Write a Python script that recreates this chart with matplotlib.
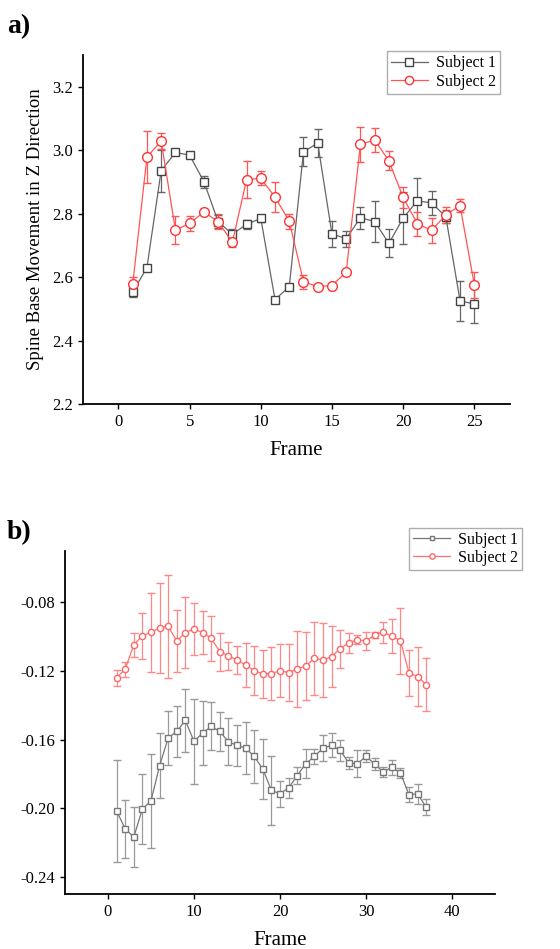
import numpy as np
import matplotlib
matplotlib.use('Agg')
import matplotlib.pyplot as plt
from matplotlib.lines import Line2D

plt.rcParams['font.family'] = ['Liberation Serif', 'DejaVu Serif']
plt.rcParams['axes.unicode_minus'] = False

# Panel a) datos
frames_a = list(range(1, 26))
s1_a = [2.552, 2.630, 2.935, 2.993, 2.984, 2.901, 2.775, 2.735, 2.766, 2.785,
        2.529, 2.570, 2.995, 3.022, 2.736, 2.721, 2.787, 2.775, 2.706, 2.786,
        2.840, 2.834, 2.790, 2.525, 2.515]
s1_a_err = [0.016, 0.005, 0.066, 0.005, 0.008, 0.019, 0.020, 0.016, 0.015, 0.010,
            0.008, 0.005, 0.045, 0.045, 0.040, 0.025, 0.035, 0.064, 0.044, 0.083,
            0.071, 0.037, 0.020, 0.062, 0.060]
s2_a = [2.577, 2.978, 3.029, 2.748, 2.769, 2.805, 2.775, 2.709, 2.907, 2.911,
        2.852, 2.776, 2.585, 2.570, 2.573, 2.616, 3.018, 3.032, 2.966, 2.851,
        2.768, 2.747, 2.796, 2.825, 2.576]
s2_a_err = [0.022, 0.081, 0.024, 0.045, 0.025, 0.010, 0.024, 0.015, 0.059, 0.022,
            0.047, 0.023, 0.022, 0.005, 0.008, 0.005, 0.054, 0.037, 0.030, 0.032,
            0.038, 0.040, 0.026, 0.020, 0.041]

# Panel b) datos
frames_b = list(range(1, 38))
s1_b = [-0.2016, -0.2120, -0.2169, -0.2004, -0.1958, -0.1752, -0.1591, -0.1552,
        -0.1488, -0.1610, -0.1562, -0.1523, -0.1552, -0.1612, -0.1634, -0.1649,
        -0.1698, -0.1771, -0.1896, -0.1915, -0.1882, -0.1810, -0.1740, -0.1698,
        -0.1649, -0.1634, -0.1663, -0.1737, -0.1740, -0.1698, -0.1742, -0.1789,
        -0.1760, -0.1795, -0.1921, -0.1917, -0.1994]
s1_b_err = [0.030, 0.017, 0.0175, 0.0203, 0.0276, 0.019, 0.0159, 0.015, 0.0184,
            0.0247, 0.0188, 0.014, 0.0114, 0.0136, 0.012, 0.015, 0.0155, 0.0177,
            0.020, 0.0075, 0.006, 0.0048, 0.0086, 0.0044, 0.0075, 0.007, 0.006,
            0.0036, 0.0078, 0.0035, 0.0034, 0.003, 0.0044, 0.003, 0.0042, 0.0057,
            0.0048]
s2_b = [-0.1240, -0.1190, -0.1046, -0.0996, -0.0973, -0.0949, -0.0940, -0.1025,
        -0.0976, -0.0955, -0.0976, -0.1009, -0.1087, -0.1112, -0.1135, -0.1165,
        -0.1198, -0.1217, -0.1215, -0.1198, -0.1209, -0.1188, -0.1170, -0.1126,
        -0.1135, -0.1116, -0.1070, -0.1035, -0.1017, -0.1025, -0.0990, -0.0975,
        -0.0996, -0.1023, -0.1211, -0.1232, -0.1281]
s2_b_err = [0.0047, 0.0045, 0.007, 0.0134, 0.023, 0.0265, 0.030, 0.018, 0.0206,
            0.015, 0.0127, 0.013, 0.011, 0.0082, 0.0083, 0.013, 0.0143, 0.014,
            0.0156, 0.0153, 0.0168, 0.022, 0.020, 0.0212, 0.0215, 0.018, 0.011,
            0.0057, 0.0025, 0.005, 0.002, 0.0063, 0.010, 0.0193, 0.0134, 0.0174,
            0.0155]

fig = plt.figure(figsize=(5.6, 9.49), dpi=100)


def estilo_ejes(ax):
    ax.spines['top'].set_visible(False)
    ax.spines['right'].set_visible(False)
    ax.spines['left'].set_linewidth(1.3)
    ax.spines['bottom'].set_linewidth(1.3)
    ax.tick_params(direction='out', length=3.5, width=1.0, labelsize=12)


def serie(ax, x, y, err, color, ecolor, marker, ms, mec):
    ax.errorbar(x, y, yerr=err, color=color, ecolor=ecolor,
                lw=0.9, elinewidth=0.9, capsize=3, capthick=0.9,
                marker=marker, ms=ms, mfc='white', mec=mec, mew=1.0)
    # punto central tipo Origin
    ax.plot(x, y, ls='none', marker='.', ms=1.5, color=mec)
    return Line2D([], [], color=color, lw=0.9, marker=marker, ms=ms * 0.85,
                  mfc='white', mec=mec, mew=1.0)


def leyenda(ax, handles, anchor):
    leg = ax.legend(handles, ['Subject 1', 'Subject 2'], loc='upper right',
                    bbox_to_anchor=anchor, bbox_transform=fig.transFigure,
                    fontsize=11.5, frameon=True, fancybox=False,
                    edgecolor='#999999', borderpad=0.25, handlelength=2.3,
                    labelspacing=0.15, handletextpad=0.5, borderaxespad=0)
    leg.get_frame().set_linewidth(1.0)


# ---- a) ----
ax1 = fig.add_axes([0.148, 0.5743, 0.7625, 0.3678])
h1 = serie(ax1, frames_a, s1_a, s1_a_err, '#666666', '#666666', 's', 6.0, '#444444')
h2 = serie(ax1, frames_a, s2_a, s2_a_err, '#ff5555', '#ff5555', 'o', 7.0, '#ff3333')
ax1.set_xlim(-2.5, 27.5)
ax1.set_ylim(2.2, 3.3)
ax1.set_xticks([0, 5, 10, 15, 20, 25])
ax1.set_yticks(np.arange(2.2, 3.21, 0.2))
ax1.yaxis.set_major_formatter(matplotlib.ticker.FormatStrFormatter('%.1f'))
ax1.set_xlabel('Frame', fontsize=15, labelpad=8)
ax1.set_ylabel('Spine Base Movement in Z Direction', fontsize=13.5, labelpad=6)
estilo_ejes(ax1)
leyenda(ax1, [h1, h2], (0.892, 0.946))
fig.text(0.012, 0.972, 'a)', fontsize=20, fontweight='bold', va='center')

# ---- b) ----
ax2 = fig.add_axes([0.116, 0.058, 0.768, 0.3614])
g1 = serie(ax2, frames_b, s1_b, s1_b_err, '#777777', '#999999', 's', 4.0, '#777777')
g2 = serie(ax2, frames_b, s2_b, s2_b_err, '#ff7070', '#ff8888', 'o', 4.5, '#ff6666')
ax2.set_xlim(-5, 45)
ax2.set_ylim(-0.25, -0.05)
ax2.set_xticks([0, 10, 20, 30, 40])
ax2.set_yticks([-0.24, -0.20, -0.16, -0.12, -0.08])
ax2.yaxis.set_major_formatter(matplotlib.ticker.FormatStrFormatter('%.2f'))
ax2.set_xlabel('Frame', fontsize=15, labelpad=8)
estilo_ejes(ax2)
leyenda(ax2, [g1, g2], (0.932, 0.444))
fig.text(0.012, 0.439, 'b)', fontsize=20, fontweight='bold', va='center')

fig.savefig('out.png', dpi=100)
plt.close(fig)
